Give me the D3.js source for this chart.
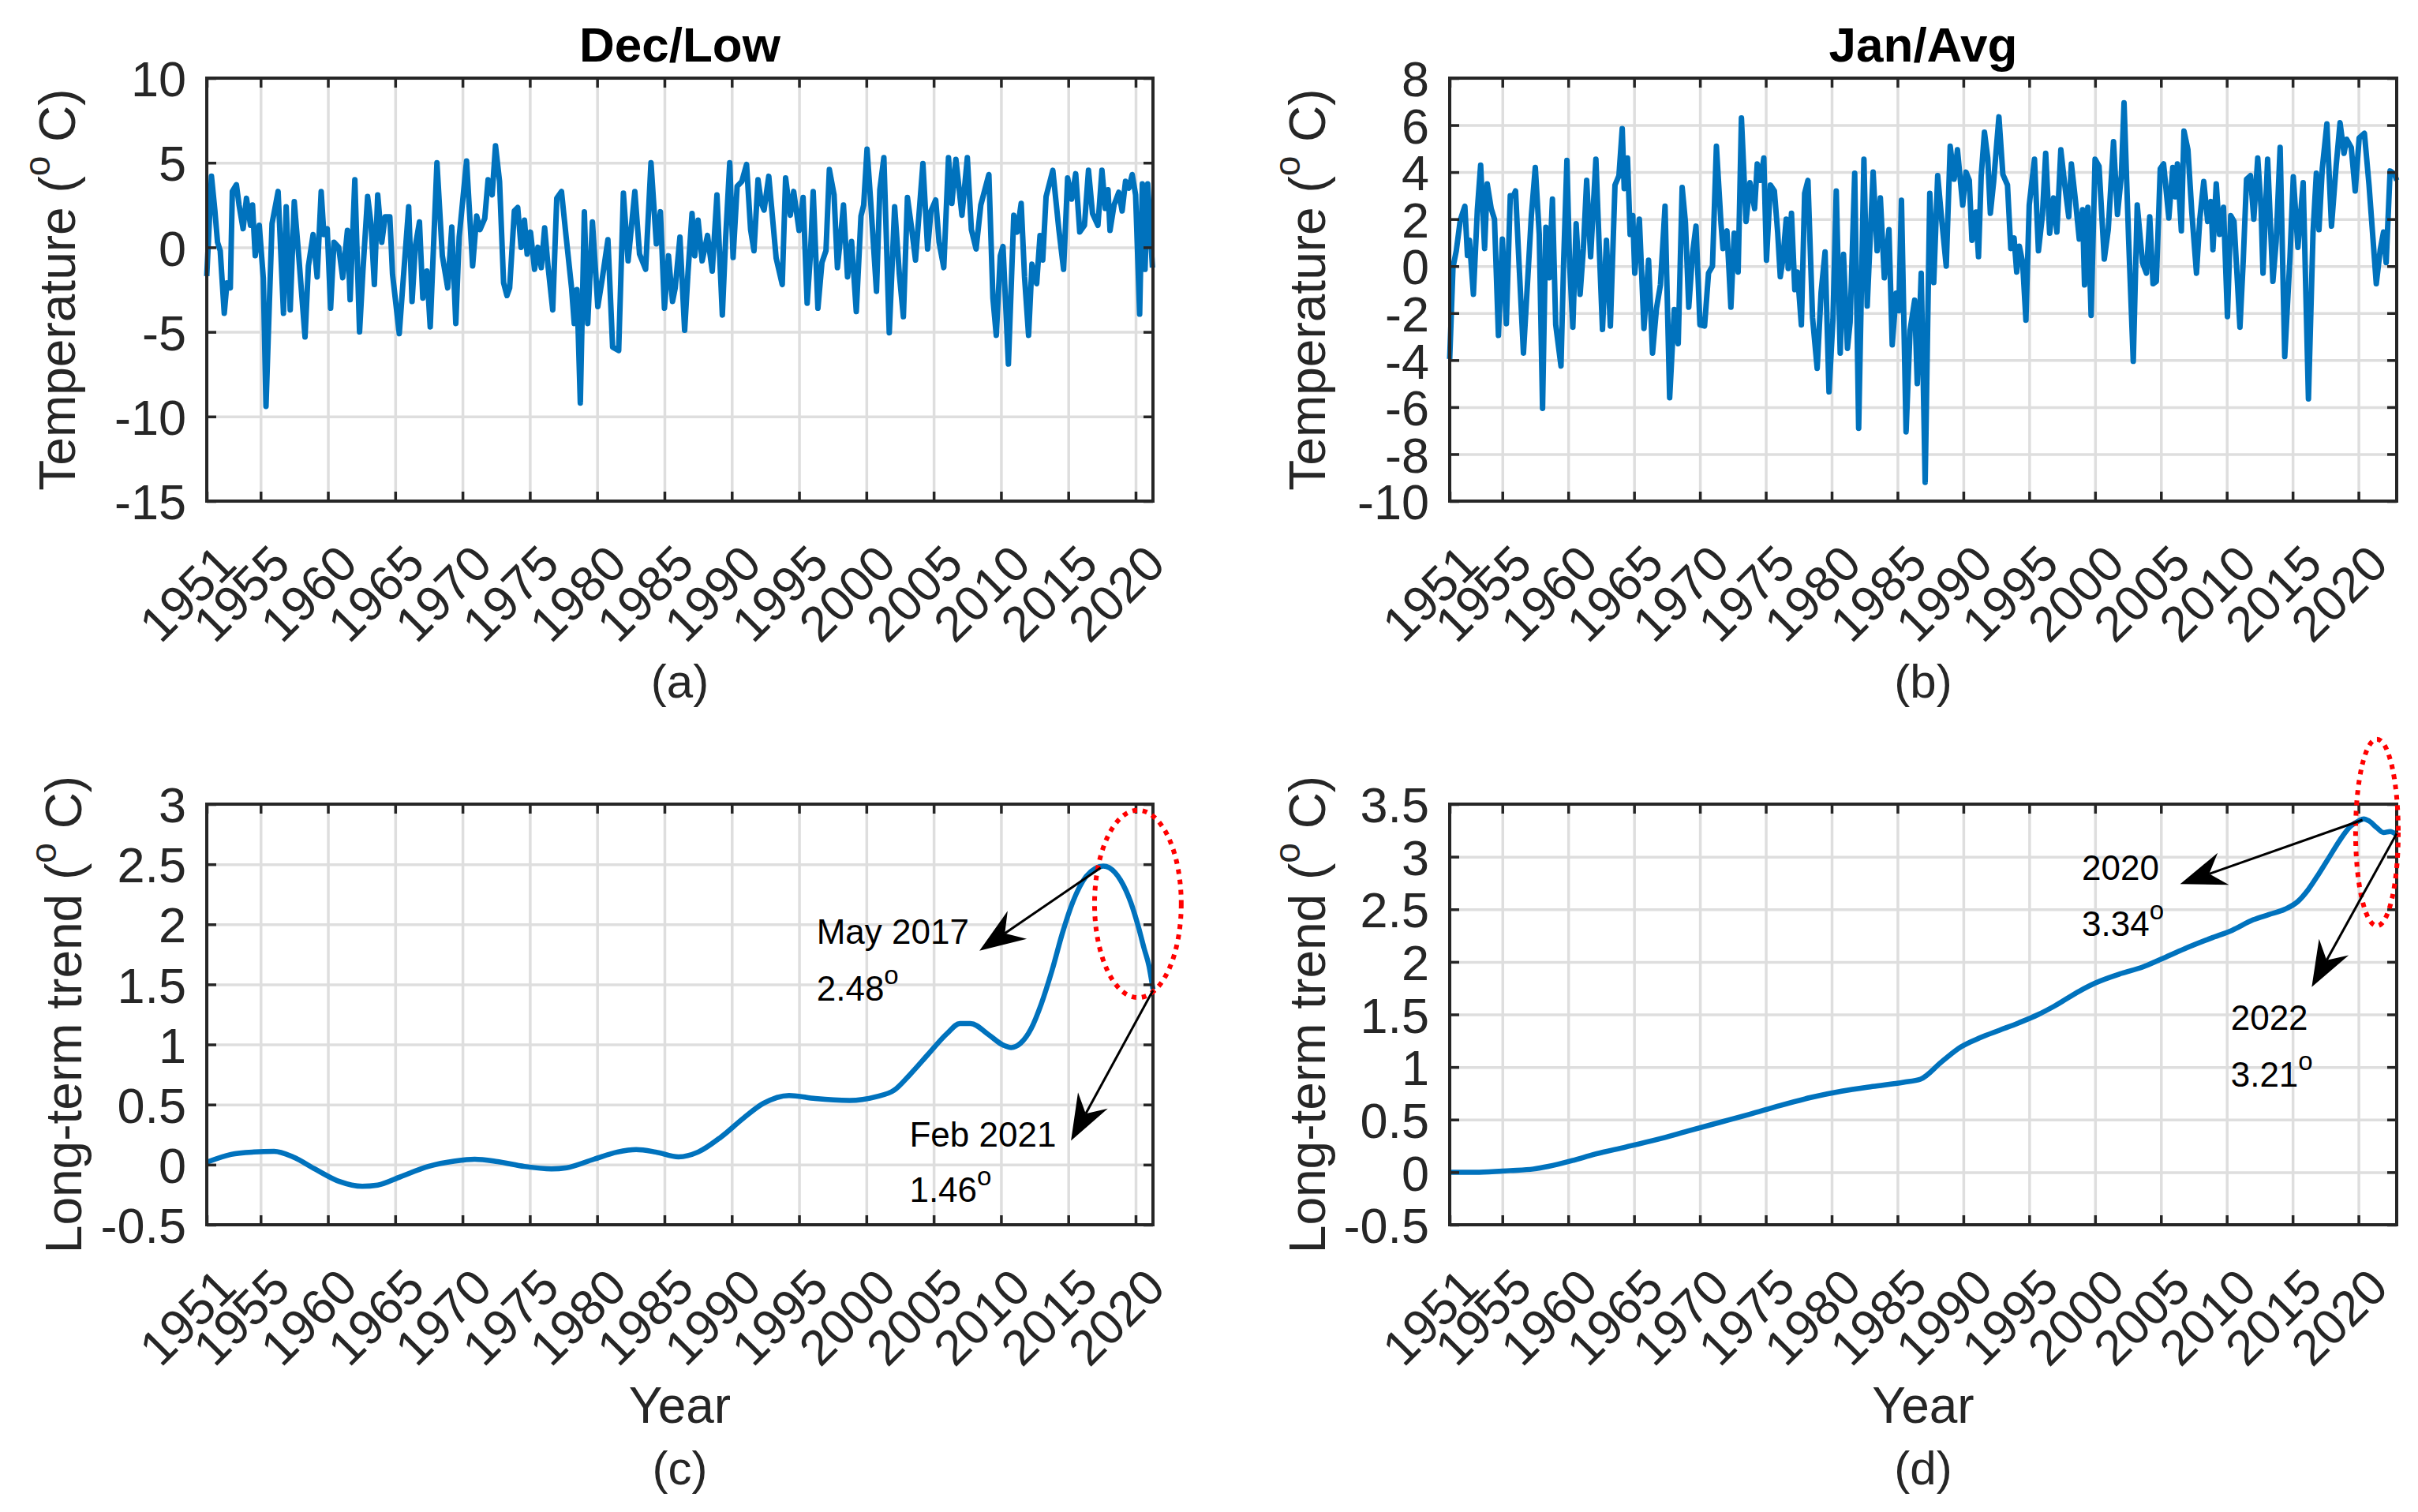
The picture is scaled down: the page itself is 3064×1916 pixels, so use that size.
<!DOCTYPE html>
<html>
<head>
<meta charset="utf-8">
<script src="https://cdn.jsdelivr.net/npm/d3@7"></script>
<style>
  body { margin: 0; background: #fff; }
</style>
</head>
<body>
<svg id="chart" width="3064" height="1916"></svg>
<script>
// ---- data ----
const yearTicks = [1951, 1955, 1960, 1965, 1970, 1975, 1980, 1985, 1990, 1995, 2000, 2005, 2010, 2015, 2020];
const decLowTicks = [-15, -10, -5, 0, 5, 10];
const janAvgTicks = [-10, -8, -6, -4, -2, 0, 2, 4, 6, 8];
const decTrendTicks = [-0.5, 0, 0.5, 1, 1.5, 2, 2.5, 3];
const janTrendTicks = [-0.5, 0, 0.5, 1, 1.5, 2, 2.5, 3, 3.5];

// (a) Dec/Low monthly temperature, [year, degC]
const decLowPoints = [
  [1951.0,-1.7],[1951.35,4.2],[1951.6,2.2],[1951.8,0.3],[1952.0,-0.2],[1952.3,-3.9],[1952.5,-2.1],[1952.75,-2.4],
  [1952.9,3.3],[1953.2,3.7],[1953.4,2.5],[1953.7,1.1],[1953.95,2.9],[1954.25,1.3],[1954.4,2.5],[1954.6,-0.5],
  [1954.9,1.3],[1955.2,-1.8],[1955.4,-9.4],[1955.65,-3.3],[1955.85,1.4],[1956.3,3.3],[1956.7,-3.9],[1956.9,2.4],
  [1957.2,-3.7],[1957.5,2.7],[1957.85,-0.7],[1958.3,-5.3],[1958.55,-1.1],[1958.9,0.75],[1959.2,-1.75],[1959.5,3.3],
  [1959.7,0.75],[1959.95,1.1],[1960.2,-3.6],[1960.45,0.3],[1960.8,0.0],[1961.1,-1.8],[1961.45,1.0],[1961.65,-3.1],
  [1962.0,4.0],[1962.35,-5.0],[1962.6,-1.4],[1962.95,3.0],[1963.2,1.4],[1963.45,-2.2],[1963.7,3.1],[1964.0,0.3],
  [1964.25,1.8],[1964.6,1.8],[1964.8,-1.6],[1965.3,-5.1],[1965.55,-2.4],[1966.0,2.4],[1966.25,-3.2],[1966.5,0.1],
  [1966.8,1.5],[1967.05,-3.0],[1967.35,-1.4],[1967.6,-4.7],[1968.1,5.0],[1968.5,-0.5],[1968.9,-2.4],[1969.2,1.2],
  [1969.5,-4.5],[1969.75,0.6],[1970.3,5.1],[1970.75,-1.1],[1971.05,1.85],[1971.3,1.05],[1971.65,1.7],[1971.9,4.0],
  [1972.2,3.1],[1972.45,6.0],[1972.75,3.9],[1973.05,-2.1],[1973.3,-2.85],[1973.5,-2.4],[1973.85,2.15],[1974.1,2.35],
  [1974.35,0.0],[1974.6,1.6],[1974.8,-0.4],[1975.05,0.9],[1975.35,-1.3],[1975.6,0.0],[1975.85,-1.2],[1976.1,1.15],
  [1976.35,-1.1],[1976.7,-3.7],[1977.0,2.9],[1977.35,3.3],[1977.7,0.6],[1978.1,-2.4],[1978.3,-4.5],[1978.5,-2.5],
  [1978.75,-9.2],[1979.05,2.1],[1979.3,-4.5],[1979.65,1.5],[1980.05,-3.5],[1980.4,-1.75],[1980.8,0.45],[1981.15,-5.9],
  [1981.6,-6.1],[1981.95,3.2],[1982.3,-0.8],[1982.8,3.3],[1983.15,-0.4],[1983.6,-1.3],[1984.0,5.0],[1984.4,0.2],
  [1984.7,2.1],[1985.0,-3.6],[1985.3,-0.5],[1985.6,-3.2],[1985.8,-2.4],[1986.15,0.6],[1986.5,-4.9],[1986.75,-1.5],
  [1987.05,2.0],[1987.25,-0.5],[1987.5,1.6],[1987.8,-0.8],[1988.2,0.7],[1988.55,-1.4],[1988.9,3.1],[1989.3,-4.0],
  [1989.55,0.6],[1989.85,5.0],[1990.1,-0.6],[1990.4,3.6],[1990.75,3.9],[1991.1,4.9],[1991.4,1.05],[1991.65,-0.2],
  [1991.95,4.0],[1992.2,2.6],[1992.4,2.2],[1992.75,4.2],[1993.3,-0.65],[1993.75,-2.2],[1994.0,4.1],[1994.35,1.9],
  [1994.6,3.3],[1995.0,1.0],[1995.3,2.95],[1995.6,-3.3],[1995.85,-0.35],[1996.05,3.3],[1996.4,-3.6],[1996.7,-0.9],
  [1997.0,-0.2],[1997.25,4.6],[1997.6,3.1],[1997.85,-1.2],[1998.1,0.75],[1998.3,2.5],[1998.6,-1.75],[1998.9,0.35],
  [1999.25,-3.8],[1999.6,1.85],[1999.8,2.5],[2000.05,5.8],[2000.3,2.95],[2000.75,-2.6],[2001.0,3.4],[2001.3,5.3],
  [2001.7,-5.05],[2002.1,2.4],[2002.45,-1.6],[2002.75,-4.1],[2003.05,2.95],[2003.35,1.2],[2003.65,-0.75],[2004.2,4.95],
  [2004.55,-0.1],[2004.8,2.15],[2005.15,2.8],[2005.4,0.3],[2005.75,-1.2],[2006.1,5.3],[2006.35,2.6],[2006.65,5.2],
  [2007.1,1.9],[2007.5,5.3],[2007.8,1.05],[2008.15,-0.1],[2008.5,2.5],[2008.8,3.4],[2009.1,4.3],[2009.4,-3.0],
  [2009.65,-5.2],[2009.95,-0.5],[2010.15,0.05],[2010.55,-6.9],[2010.95,1.9],[2011.2,0.9],[2011.5,2.6],[2011.75,-1.75],
  [2012.05,-5.2],[2012.3,-1.0],[2012.65,-2.15],[2012.9,0.7],[2013.1,-0.75],[2013.35,3.0],[2013.85,4.55],[2014.3,1.05],
  [2014.65,-1.3],[2014.95,4.1],[2015.25,2.85],[2015.55,4.35],[2015.85,0.9],[2016.2,1.3],[2016.5,4.55],[2016.8,2.0],
  [2017.2,1.3],[2017.5,4.55],[2017.75,2.3],[2017.95,3.4],[2018.1,1.0],[2018.4,2.5],[2018.75,3.25],[2019.0,2.15],
  [2019.25,3.9],[2019.5,3.5],[2019.75,4.3],[2020.0,3.1],[2020.3,-3.95],[2020.5,3.75],[2020.7,-1.3],[2020.9,3.75],
  [2021.25,-1.2]
];

// (b) Jan/Avg monthly temperature, [year, degC]
const janAvgPoints = [
  [1951.0,-3.95],[1951.25,-0.05],[1951.5,0.65],[1951.8,1.95],[1952.15,2.55],[1952.35,0.45],[1952.5,1.1],[1952.8,-1.2],
  [1953.1,2.4],[1953.35,4.3],[1953.65,0.75],[1953.85,3.5],[1954.15,2.45],[1954.4,2.0],[1954.7,-2.95],[1955.0,1.15],
  [1955.3,-2.45],[1955.6,3.0],[1955.85,3.0],[1956.0,3.2],[1956.3,-0.3],[1956.6,-3.7],[1956.95,-0.3],[1957.2,2.15],
  [1957.5,4.2],[1957.8,1.35],[1958.05,-6.05],[1958.3,1.65],[1958.55,-0.5],[1958.8,2.85],[1959.05,-2.5],[1959.45,-4.25],
  [1959.65,0.15],[1959.9,4.5],[1960.1,0.15],[1960.35,-2.6],[1960.6,1.8],[1960.9,-1.2],[1961.15,0.75],[1961.4,3.65],
  [1961.7,0.4],[1962.1,4.55],[1962.35,0.85],[1962.6,-2.7],[1962.9,1.1],[1963.2,-2.55],[1963.55,3.45],[1963.85,3.85],
  [1964.1,5.85],[1964.25,3.3],[1964.5,4.6],[1964.7,1.35],[1964.9,2.15],[1965.05,-0.3],[1965.4,2.0],[1965.75,-2.65],
  [1966.1,0.25],[1966.4,-3.7],[1966.7,-1.8],[1967.0,-0.8],[1967.35,2.55],[1967.7,-5.6],[1968.05,-1.85],[1968.35,-3.3],
  [1968.65,3.35],[1968.9,1.85],[1969.15,-1.75],[1969.45,0.6],[1969.7,1.7],[1970.0,-2.5],[1970.35,-2.55],[1970.65,-0.3],
  [1970.95,0.0],[1971.25,5.1],[1971.6,1.8],[1971.75,0.75],[1972.05,1.5],[1972.35,-1.75],[1972.6,1.4],[1972.9,-0.25],
  [1973.15,6.3],[1973.5,1.9],[1973.8,3.55],[1974.15,2.45],[1974.35,4.35],[1974.6,3.65],[1974.85,4.6],[1975.05,0.25],
  [1975.35,3.45],[1975.65,3.2],[1975.9,1.45],[1976.1,-0.45],[1976.3,0.3],[1976.55,2.0],[1976.7,-0.1],[1976.95,2.25],
  [1977.2,-1.0],[1977.4,-0.25],[1977.7,-2.5],[1977.95,3.1],[1978.2,3.65],[1978.55,-2.2],[1978.9,-4.35],[1979.2,-1.1],
  [1979.5,0.6],[1979.8,-5.35],[1980.1,-2.25],[1980.35,3.2],[1980.65,-3.7],[1980.9,0.5],[1981.2,-3.5],[1981.4,-2.4],
  [1981.75,3.95],[1982.05,-6.9],[1982.45,4.55],[1982.7,-1.7],[1982.9,0.85],[1983.15,4.0],[1983.45,0.65],[1983.7,2.9],
  [1984.0,-0.5],[1984.35,1.55],[1984.6,-3.35],[1984.9,-1.15],[1985.1,-1.9],[1985.3,2.8],[1985.65,-7.05],[1985.95,-2.75],
  [1986.3,-1.45],[1986.5,-5.0],[1986.8,-0.3],[1987.1,-9.2],[1987.45,3.1],[1987.75,-0.7],[1988.05,3.85],[1988.35,2.0],
  [1988.7,0.0],[1989.0,5.1],[1989.3,3.7],[1989.55,4.95],[1989.95,2.6],[1990.2,4.0],[1990.45,3.65],[1990.65,1.1],
  [1990.95,2.3],[1991.15,0.4],[1991.35,3.8],[1991.6,5.7],[1991.85,4.6],[1992.05,2.25],[1992.3,3.6],[1992.7,6.35],
  [1993.0,3.9],[1993.35,3.45],[1993.6,0.75],[1993.85,1.2],[1994.05,-0.25],[1994.25,0.85],[1994.5,0.15],[1994.75,-2.3],
  [1995.0,2.6],[1995.4,4.55],[1995.7,0.65],[1996.0,2.15],[1996.25,4.8],[1996.55,1.4],[1996.85,2.9],[1997.1,1.45],
  [1997.4,4.95],[1997.7,3.45],[1998.0,2.1],[1998.2,4.35],[1998.5,2.85],[1998.8,1.15],[1999.05,2.4],[1999.2,-0.8],
  [1999.45,2.5],[1999.7,-2.1],[2000.0,4.55],[2000.3,4.25],[2000.7,0.3],[2001.0,1.55],[2001.4,5.3],[2001.7,2.2],
  [2002.0,3.9],[2002.2,6.95],[2002.55,1.1],[2002.9,-4.05],[2003.2,2.6],[2003.6,0.15],[2003.9,-0.3],[2004.15,2.1],
  [2004.4,-0.75],[2004.65,-0.65],[2004.95,4.15],[2005.2,4.35],[2005.6,2.05],[2005.9,4.2],[2006.1,2.95],[2006.25,4.35],
  [2006.55,1.5],[2006.75,5.75],[2007.05,4.95],[2007.35,2.25],[2007.7,-0.3],[2007.95,2.0],[2008.25,3.6],[2008.55,1.9],
  [2008.8,2.75],[2008.95,0.7],[2009.2,3.5],[2009.45,1.35],[2009.75,2.5],[2010.05,-2.15],[2010.3,2.15],[2010.55,1.9],
  [2011.0,-2.6],[2011.25,0.25],[2011.5,3.7],[2011.8,3.85],[2012.05,2.0],[2012.35,4.6],[2012.6,2.5],[2012.75,-0.3],
  [2013.1,4.55],[2013.5,-0.65],[2013.75,1.05],[2014.05,5.05],[2014.4,-3.85],[2014.8,0.4],[2015.05,3.8],[2015.4,0.8],
  [2015.8,3.55],[2016.2,-5.65],[2016.55,1.45],[2016.8,3.95],[2017.0,1.55],[2017.25,4.15],[2017.6,6.05],[2017.95,1.7],
  [2018.3,4.25],[2018.6,6.1],[2018.9,4.8],[2019.1,5.4],[2019.45,5.05],[2019.75,3.2],[2020.05,5.45],[2020.45,5.65],
  [2020.8,3.45],[2021.35,-0.75],[2021.65,0.7],[2021.9,1.45],[2022.1,0.15],[2022.4,4.05],[2022.75,3.9],[2022.9,3.65]
];

// (c) long-term trend of Dec/Low, [year, degC]
const decTrendPoints = [
  [1951.0,0.02],[1952.8,0.085],[1954.5,0.105],[1956.0,0.11],[1957.4,0.065],[1959.1,-0.04],[1960.85,-0.14],[1962.55,-0.18],
  [1963.7,-0.17],[1965.4,-0.1],[1967.45,-0.015],[1969.45,0.03],[1970.9,0.045],[1972.6,0.025],[1974.6,-0.015],[1976.6,-0.035],
  [1977.75,-0.025],[1979.75,0.045],[1981.5,0.105],[1982.9,0.125],[1984.35,0.105],[1986.05,0.065],[1987.5,0.105],[1989.2,0.23],
  [1990.9,0.39],[1992.35,0.51],[1994.26,0.576],[1996.2,0.55],[1998.75,0.535],[2000.7,0.565],[2002.07,0.62],[2003.24,0.75],
  [2004.6,0.92],[2005.98,1.09],[2006.95,1.175],[2007.73,1.175],[2009.1,1.08],[2010.08,1.0],[2010.76,0.975],[2011.45,1.01],
  [2012.23,1.13],[2013.0,1.34],[2013.8,1.62],[2014.57,1.93],[2015.35,2.19],[2016.33,2.4],[2017.0,2.465],[2017.6,2.485],
  [2018.48,2.43],[2018.87,2.37],[2019.65,2.18],[2020.23,1.97],[2020.63,1.8],[2021.0,1.65],[2021.29,1.46]
];

// (d) long-term trend of Jan/Avg, [year, degC]
const janTrendPoints = [
  [1951.0,0.0],[1953.25,0.0],[1955.6,0.015],[1957.35,0.03],[1958.5,0.055],[1960.3,0.11],[1962.0,0.17],[1964.4,0.24],
  [1966.7,0.31],[1969.05,0.39],[1971.4,0.47],[1973.75,0.55],[1976.1,0.635],[1978.4,0.71],[1980.75,0.77],[1983.1,0.815],
  [1985.45,0.855],[1986.75,0.885],[1988.35,1.05],[1989.8,1.19],[1991.3,1.28],[1992.75,1.35],[1994.2,1.42],[1995.7,1.5],
  [1996.85,1.575],[1998.85,1.725],[2000.04,1.8],[2002.0,1.89],[2003.6,1.95],[2005.0,2.025],[2006.8,2.125],[2008.8,2.225],
  [2010.4,2.3],[2012.0,2.4],[2013.2,2.45],[2014.4,2.5],[2015.4,2.575],[2016.2,2.69],[2017.0,2.84],[2017.8,3.0],
  [2018.6,3.16],[2019.4,3.29],[2020.0,3.34],[2020.4,3.36],[2020.8,3.34],[2021.4,3.275],[2021.9,3.23],[2022.4,3.24],
  [2022.9,3.21]
];

// annotations, in data units
const decEllipse = { center: [2020.17, 2.17], radius: [3.22, 0.78] };
const decArrows = [[[2017.4, 2.47], [2008.4, 1.78]], [[2021.29, 1.45], [2015.2, 0.2]]];
const decNotes = [
  { text: "May 2017", at: [1996.3, 1.84] }, { text: "2.48", deg: true, at: [1996.3, 1.365] },
  { text: "Feb 2021", at: [2003.2, 0.15] }, { text: "1.46", deg: true, at: [2003.2, -0.31] }
];
const janEllipse = { center: [2021.4, 3.23], radius: [1.62, 0.888] };
const janArrows = [[[2020.3, 3.35], [2006.46, 2.74]], [[2022.9, 3.22], [2016.45, 1.76]]];
const janNotes = [
  { text: "2020", at: [1999.0, 2.78] }, { text: "3.34", deg: true, at: [1999.0, 2.25] },
  { text: "2022", at: [2010.3, 1.355] }, { text: "3.21", deg: true, at: [2010.3, 0.81] }
];

// ---- drawing ----
const FONT = '"Liberation Sans", Arial, Helvetica, sans-serif';
const AX = "#262626";
const svg = d3.select("#chart");

const panels = [
  { left: 262, right: 1461, top: 99, bottom: 635, xEnd: 2021.29, yDomain: [-15, 10], yTicks: decLowTicks,
    points: decLowPoints, curve: d3.curveLinear, lineW: 7, title: "Dec/Low", ylabel: "Temperature (", ylabOff: 167,
    tag: "(a)", tagY: 884 },
  { left: 1837, right: 3037, top: 99, bottom: 635, xEnd: 2022.9, yDomain: [-10, 8], yTicks: janAvgTicks,
    points: janAvgPoints, curve: d3.curveLinear, lineW: 7, title: "Jan/Avg", ylabel: "Temperature (", ylabOff: 158,
    tag: "(b)", tagY: 884 },
  { left: 262, right: 1461, top: 1019, bottom: 1552, xEnd: 2021.29, yDomain: [-0.5, 3], yTicks: decTrendTicks,
    points: decTrendPoints, curve: d3.curveMonotoneX, lineW: 6.5, ylabel: "Long-term trend (", ylabOff: 159,
    xlabel: "Year", tag: "(c)", tagY: 1881, ellipse: decEllipse, arrows: decArrows, notes: decNotes },
  { left: 1837, right: 3037, top: 1019, bottom: 1552, xEnd: 2022.9, yDomain: [-0.5, 3.5], yTicks: janTrendTicks,
    points: janTrendPoints, curve: d3.curveMonotoneX, lineW: 6.5, ylabel: "Long-term trend (", ylabOff: 158,
    xlabel: "Year", tag: "(d)", tagY: 1881, ellipse: janEllipse, arrows: janArrows, notes: janNotes }
];

function styleAxis(sel) {
  sel.attr("font-size", 63).attr("font-family", FONT).attr("color", AX);
  sel.select(".domain").remove();
  sel.selectAll(".tick line").attr("stroke-width", 3.5);
}

function drawPanel(p) {
  const x = d3.scaleLinear().domain([1951, p.xEnd]).range([p.left, p.right]);
  const y = d3.scaleLinear().domain(p.yDomain).range([p.bottom, p.top]);
  const h = p.bottom - p.top, w = p.right - p.left;
  const g = svg.append("g");

  // grid lines
  g.append("g").attr("transform", `translate(0,${p.bottom})`)
    .call(d3.axisBottom(x).tickValues(yearTicks).tickSize(-h).tickFormat(""))
    .call(s => s.select(".domain").remove())
    .selectAll("line").attr("stroke", "#dedede").attr("stroke-width", 3.5);
  g.append("g").attr("transform", `translate(${p.left},0)`)
    .call(d3.axisLeft(y).tickValues(p.yTicks).tickSize(-w).tickFormat(""))
    .call(s => s.select(".domain").remove())
    .selectAll("line").attr("stroke", "#dedede").attr("stroke-width", 3.5);

  // the series
  const line = d3.line().x(d => x(d[0])).y(d => y(d[1])).curve(p.curve);
  g.append("path").datum(p.points)
    .attr("d", line)
    .attr("fill", "none")
    .attr("stroke", "#0072BD")
    .attr("stroke-width", p.lineW)
    .attr("stroke-linejoin", "round");

  // axes, ticks pointing inward on all four sides
  const bottomAx = g.append("g").attr("transform", `translate(0,${p.bottom})`)
    .call(d3.axisBottom(x).tickValues(yearTicks).tickSizeInner(-12).tickSizeOuter(0).tickFormat(d3.format("d")))
    .call(styleAxis);
  bottomAx.selectAll("text")
    .attr("y", 0).attr("dy", null)
    .attr("text-anchor", "end")
    .attr("transform", "translate(40,83) rotate(-45)");
  g.append("g").attr("transform", `translate(0,${p.top})`)
    .call(d3.axisTop(x).tickValues(yearTicks).tickSizeInner(-12).tickSizeOuter(0).tickFormat(""))
    .call(styleAxis);
  g.append("g").attr("transform", `translate(${p.left},0)`)
    .call(d3.axisLeft(y).tickValues(p.yTicks).tickSizeInner(-12).tickSizeOuter(0).tickPadding(26).tickFormat(d => String(d)))
    .call(styleAxis)
    .selectAll("text").attr("dy", "0.36em");
  g.append("g").attr("transform", `translate(${p.right},0)`)
    .call(d3.axisRight(y).tickValues(p.yTicks).tickSizeInner(-12).tickSizeOuter(0).tickFormat(""))
    .call(styleAxis);
  g.append("rect")
    .attr("x", p.left).attr("y", p.top).attr("width", w).attr("height", h)
    .attr("fill", "none").attr("stroke", AX).attr("stroke-width", 4);

  // titles and labels
  const cx = (p.left + p.right) / 2;
  if (p.title) {
    g.append("text").attr("x", cx).attr("y", 78)
      .attr("text-anchor", "middle").attr("font-family", FONT).attr("font-size", 62)
      .attr("font-weight", "bold").attr("fill", "#000").text(p.title);
  }
  const yl = g.append("text")
    .attr("transform", `translate(${p.left - p.ylabOff},${(p.top + p.bottom) / 2}) rotate(-90)`)
    .attr("text-anchor", "middle").attr("font-family", FONT).attr("font-size", 64).attr("fill", AX);
  yl.append("tspan").text(p.ylabel);
  yl.append("tspan").attr("font-size", 46).attr("dy", -32).text("o");
  yl.append("tspan").attr("dy", 32).text(" C)");
  if (p.xlabel) {
    g.append("text").attr("x", cx).attr("y", 1803)
      .attr("text-anchor", "middle").attr("font-family", FONT).attr("font-size", 64)
      .attr("fill", AX).text(p.xlabel);
  }
  g.append("text").attr("x", cx).attr("y", p.tagY)
    .attr("text-anchor", "middle").attr("font-family", FONT).attr("font-size", 60)
    .attr("fill", AX).text(p.tag);

  // annotations
  if (p.ellipse) {
    const c = p.ellipse.center, r = p.ellipse.radius;
    g.append("ellipse")
      .attr("cx", x(c[0])).attr("cy", y(c[1]))
      .attr("rx", x(c[0] + r[0]) - x(c[0])).attr("ry", y(c[1]) - y(c[1] + r[1]))
      .attr("fill", "none").attr("stroke", "#ff0000").attr("stroke-width", 6)
      .attr("stroke-dasharray", "6 7");
  }
  (p.arrows || []).forEach(a => {
    const sx = x(a[0][0]), sy = y(a[0][1]), tx = x(a[1][0]), ty = y(a[1][1]);
    const len = Math.hypot(tx - sx, ty - sy);
    const ux = (tx - sx) / len, uy = (ty - sy) / len;
    const nx = -uy, ny = ux;
    const L = 58, W = 21.5, N = 39;
    const bx = tx - ux * N, by = ty - uy * N;
    g.append("line").attr("x1", sx).attr("y1", sy).attr("x2", bx).attr("y2", by)
      .attr("stroke", "#000").attr("stroke-width", 3);
    const head = d3.path();
    head.moveTo(tx, ty);
    head.lineTo(tx - ux * L + nx * W, ty - uy * L + ny * W);
    head.lineTo(bx, by);
    head.lineTo(tx - ux * L - nx * W, ty - uy * L - ny * W);
    head.closePath();
    g.append("path").attr("d", head.toString()).attr("fill", "#000");
  });
  (p.notes || []).forEach(n => {
    const t = g.append("text").attr("x", x(n.at[0])).attr("y", y(n.at[1]))
      .attr("font-family", FONT).attr("font-size", 44).attr("fill", "#000");
    t.append("tspan").text(n.text);
    if (n.deg) t.append("tspan").attr("font-size", 33).attr("dy", -21).text("o");
  });
}

panels.forEach(drawPanel);
</script>
</body>
</html>
